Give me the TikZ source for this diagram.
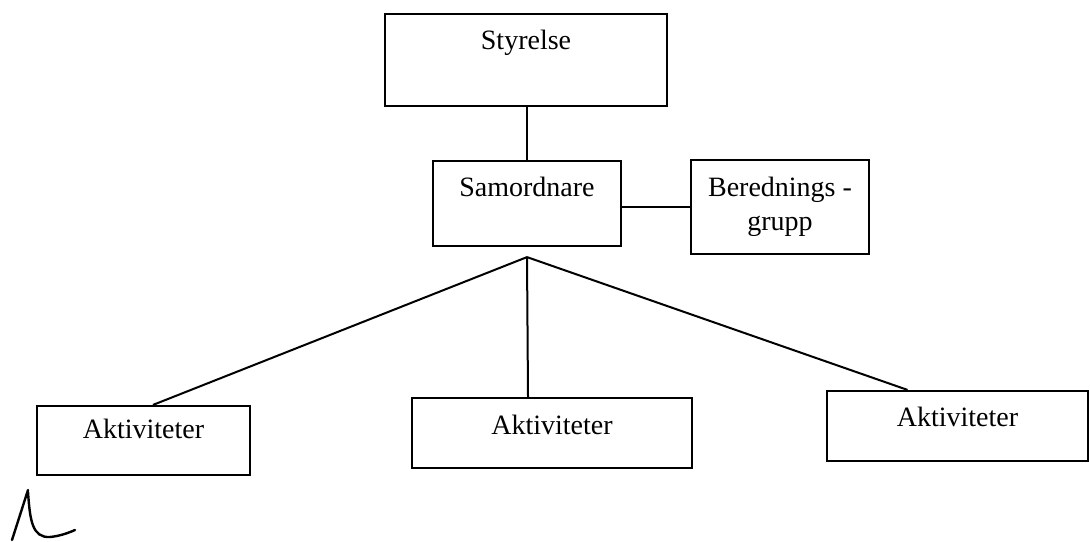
\documentclass[tikz,border=0pt]{standalone}
\usepackage{fontspec}
\setmainfont{Liberation Serif}
\begin{document}
\begin{tikzpicture}
[
    x=0.5pt, y=-0.5pt,
    every node/.style={font=\fontsize{14}{17}\selectfont},
    box/.style={draw, line width=1.1pt, rectangle, inner sep=0pt, align=center},
    lift/.style={text height=9pt, text depth=#1},
    link/.style={line width=1pt},
]
\useasboundingbox (0,0) rectangle (1090,541);
\node [box, lift=20pt, minimum width=141pt, minimum height=46pt] (styrelse) at (526,60) {Styrelse};
\node [box, lift=16.5pt, minimum width=94pt, minimum height=42.5pt] (samordnare) at (527,203.5) {Samordnare};
\node [box, minimum width=89pt, minimum height=47pt] (beredning) at (780,207) {Berednings -\\grupp};
\node [box, lift=11.5pt, minimum width=106.5pt, minimum height=34.5pt] (akt1) at (143.5,440.5) {Aktiviteter};
\node [box, lift=8pt, minimum width=140pt, minimum height=35pt] (akt2) at (552,433) {Aktiviteter};
\node [box, lift=8.5pt, minimum width=130.5pt, minimum height=35pt] (akt3) at (957.5,426) {Aktiviteter};
\coordinate (apex) at ([yshift=-5pt]samordnare.south);
\draw [link] (samordnare.north |- styrelse.south) -- (samordnare.north);
\draw [link] (samordnare.east |- beredning.west) -- (beredning.west);
\draw [link] (apex) -- ([xshift=4.75pt]akt1.north);
\draw [link] (apex) -- ([xshift=-12pt]akt2.north);
\draw [link] (apex) -- ([xshift=-25pt]akt3.north);
\draw [line width=1.2pt, line cap=round] (28,490) -- (12,540);
\draw [line width=1.2pt, line cap=round] (28,492) .. controls (30,520) and (32,538) .. (50,537) .. controls (60,536) and (68,533) .. (75,530);
\end{tikzpicture}
\end{document}
